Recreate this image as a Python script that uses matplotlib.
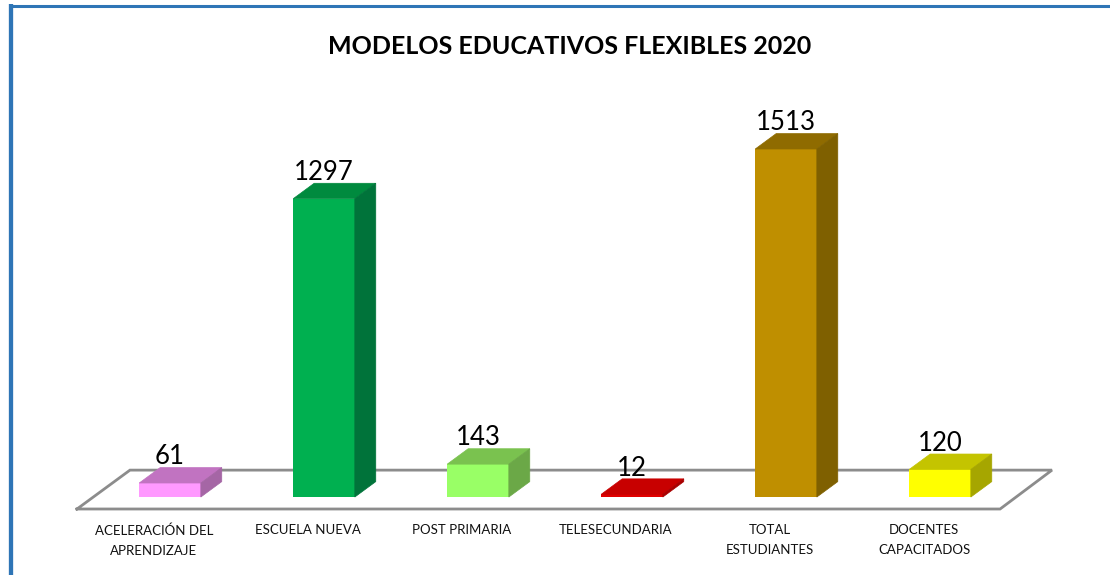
import numpy as np
from matplotlib import pyplot as plt
from matplotlib.lines import Line2D

categories = ['ACELERACIÓN DEL\nAPRENDIZAJE', 'ESCUELA NUEVA', 'POST PRIMARIA',
              'TELESECUNDARIA', 'TOTAL\nESTUDIANTES', 'DOCENTES\nCAPACITADOS']
values = [61, 1297, 143, 12, 1513, 120]
front_colors = ['#FF99FF', '#00B050', '#99FF66', '#E00000', '#BF8F00', '#FFFF00']
top_colors = ['#C173C1', '#008A3E', '#7AC24F', '#C80000', '#8F6B00', '#C4C400']
side_colors = ['#A566A5', '#00733A', '#6BA847', '#A80000', '#7F6000', '#A6A600']

W, H = 1110, 575
bar_w = 0.4
dx = 0.136     # depth of the 3d look, category units
dy = 67        # same in value units
floor_low = -52
floor_high = 117

plt.rcParams['font.family'] = 'Lato'
fig = plt.figure(figsize=(W / 100, H / 100), dpi=100)
ax = fig.add_axes([77 / W, (H - 509) / H, (1052 - 77) / W, (509 - 100) / H])
ax.set_xlim(-0.604, 5.727)
ax.set_ylim(floor_low, 1726)

# floor
ax.plot([-0.604, -0.26, 5.727, 5.39, -0.604],
        [floor_low, floor_high, floor_high, floor_low, floor_low],
        color='#8C8C8C', lw=2, solid_joinstyle='miter', clip_on=False, zorder=1)

x = np.arange(len(values))
ax.bar(x, values, bar_w, color=front_colors, zorder=3)
for i, v in enumerate(values):
    l = x[i] - bar_w / 2
    r = x[i] + bar_w / 2
    ax.fill([l, r, r + dx, l + dx], [v, v, v + dy, v + dy], color=top_colors[i], lw=0.5, zorder=3)
    ax.fill([r, r + dx, r + dx, r], [0, dy, v + dy, v], color=side_colors[i], lw=0.5, zorder=3)
    ax.annotate(str(v), (x[i], v + dy), xytext=(0, -1.2), textcoords='offset points',
                ha='center', va='bottom', fontsize=18.5, color='black', zorder=4)

ax.set_xticks(x - 0.104)
ax.set_xticklabels(categories, fontsize=9.5, linespacing=1.8, color='#111111')
ax.tick_params(axis='x', length=0, pad=11)
ax.set_yticks([])
for s in ax.spines.values():
    s.set_visible(False)
ax.patch.set_alpha(0)

fig.text(570 / W, 1 - 46 / H, 'MODELOS EDUCATIVOS FLEXIBLES 2020', ha='center', va='center',
         fontsize=18, fontweight='bold', color='black')

# blue frame of the picture
fig.add_artist(Line2D([11 / W, 11 / W], [0, 1 - 4 / H], color='#2E75B6', lw=3.1, solid_capstyle='butt'))
fig.add_artist(Line2D([9 / W, 1], [1 - 5.5 / H, 1 - 5.5 / H], color='#2E75B6', lw=2.2, solid_capstyle='butt'))

plt.savefig('out.png', dpi=100)
